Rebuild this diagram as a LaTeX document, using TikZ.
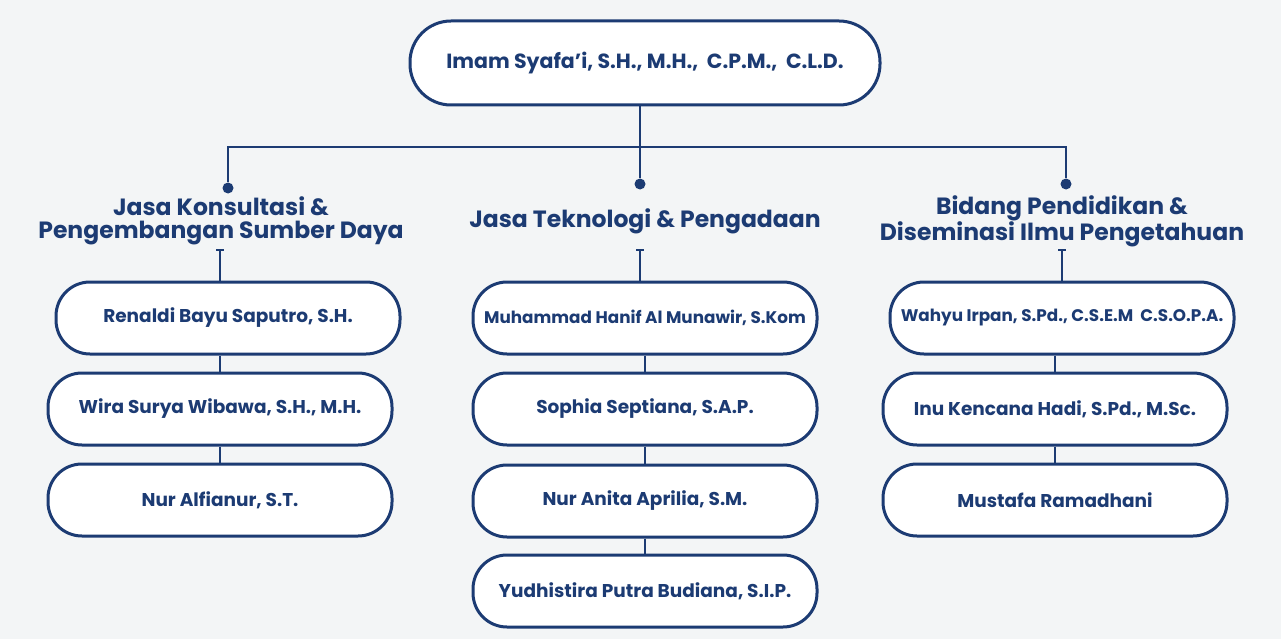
\documentclass[tikz,border=0pt]{standalone}
\usepackage{fontspec}
\setmainfont{Poppins}
\usetikzlibrary{positioning}
\definecolor{navy}{HTML}{1C3B73}
\definecolor{bg}{HTML}{F3F5F6}
\tikzset{every path/.style={line width=1.5pt}}
\tikzset{
  pill/.style={draw=navy,line width=3pt,fill=white,rounded corners=34pt,minimum width=344pt,minimum height=72pt,inner sep=1pt,font=\fontsize{18.5}{20}\selectfont\bfseries,text=navy},
  head/.style={align=center,font=\fontsize{23.5}{23}\selectfont\bfseries,text=navy,inner sep=0pt},
  dot/.style={circle,fill=navy,inner sep=0pt,minimum size=11pt},
  link/.style={draw=navy,line width=2.2pt}
}
\begin{document}
\begin{tikzpicture}[x=1pt,y=-1pt]
  \fill[bg] (0,0) rectangle (1281,639);
  \useasboundingbox (0,0) rectangle (1281,639);
  % top
  \node[pill,minimum width=470pt,minimum height=84pt,rounded corners=41pt,font=\fontsize{20.5}{22}\selectfont\bfseries] (top) at (645,63) {Imam Syafa'i, S.H., M.H.,\ \ C.P.M.,\ \ C.L.D.};
  \coordinate (hub) at (640,147);
  \node[dot] (d1) at (228,188) {};
  \node[dot] (d2) at (640,184) {};
  \node[dot] (d3) at (1066,184) {};
  \draw[link] (top.south -| hub) -- (hub);
  \draw[link] (d1) |- (hub) -| (d3);
  \draw[link] (hub) -- (d2);
  % headers
  \node[head] (h1) at (221,221) {Jasa Konsultasi \&\\Pengembangan Sumber Daya};
  \node[head] (h2) at (645,221) {Jasa Teknologi \& Pengadaan};
  \node[head] (h3) at (1062,221) {Bidang Pendidikan \&\\Diseminasi Ilmu Pengetahuan};
  \coordinate (t1) at (220,250);
  \coordinate (t2) at (640,250);
  \coordinate (t3) at (1062,250);
  % left column
  \node[pill] (l1) at (228,318) {Renaldi Bayu Saputro, S.H.};
  \node[pill] (l2) at (220,409) {Wira Surya Wibawa, S.H., M.H.};
  \node[pill] (l3) at (220,500) {Nur Alfianur, S.T.};
  % middle column
  \node[pill] (m1) at (645,318) {\fontsize{16.8}{18}\selectfont Muhammad Hanif Al Munawir, S.Kom};
  \node[pill] (m2) at (645,409) {Sophia Septiana, S.A.P.};
  \node[pill] (m3) at (645,501) {Nur Anita Aprilia, S.M.};
  \node[pill] (m4) at (645,591) {Yudhistira Putra Budiana, S.I.P.};
  % right column
  \node[pill] (r1) at (1062,318) {\fontsize{16.8}{18}\selectfont Wahyu Irpan, S.Pd., C.S.E.M\ \ C.S.O.P.A.};
  \node[pill] (r2) at (1055,409) {Inu Kencana Hadi, S.Pd., M.Sc.};
  \node[pill] (r3) at (1055,500) {Mustafa Ramadhani};
  % ticks and links
  \foreach \t/\a in {t1/l1,t2/m1,t3/r1}{
    \draw[link] ([xshift=-4pt]\t) -- ([xshift=4pt]\t);
    \draw[link] (\t) -- (\t |- \a.north);
  }
  \foreach \a/\b in {l1/l2,l2/l3,m1/m2,m2/m3,m3/m4,r1/r2,r2/r3}{
    \draw[link] (\a.south -| \b) -- (\b.north);
  }
\end{tikzpicture}
\end{document}
